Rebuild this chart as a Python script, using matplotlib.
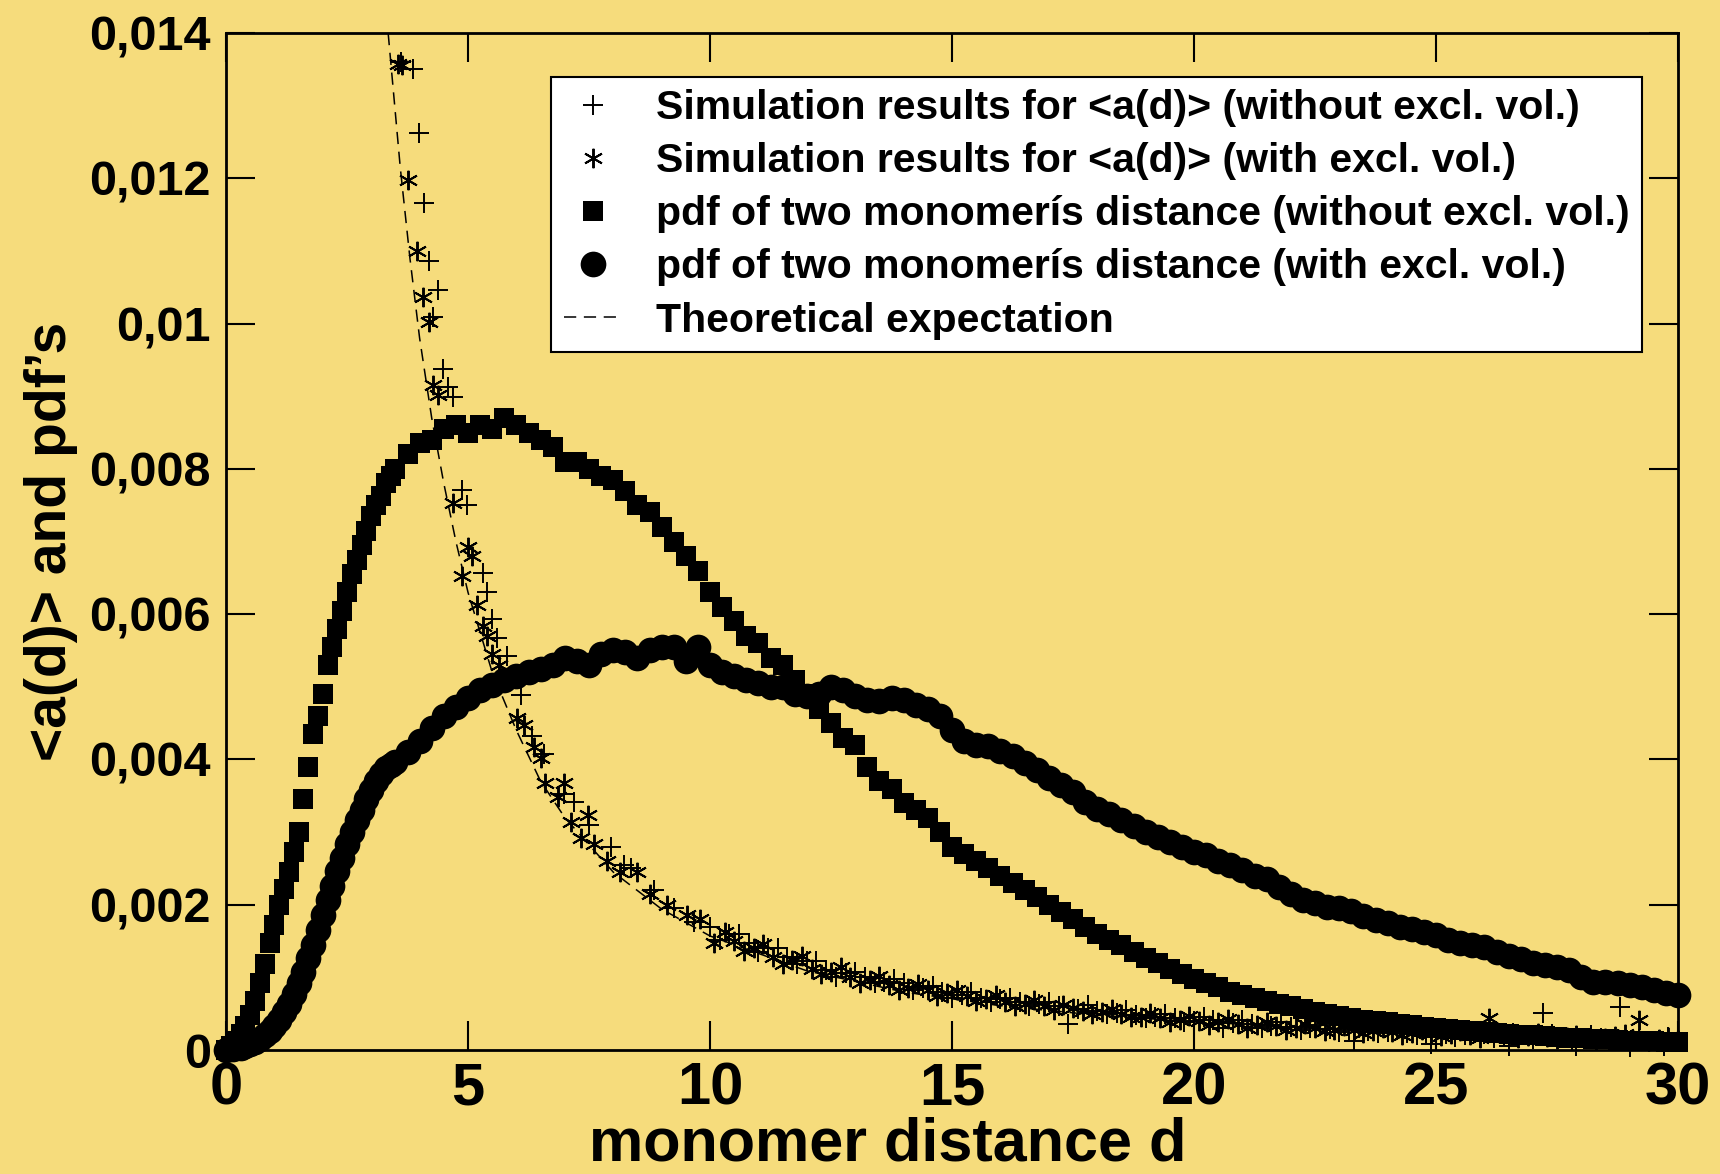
#!/usr/bin/env python3
"""Average a(d) and pdf of two monomers' distance vs monomer distance d."""
import matplotlib

matplotlib.use("Agg")
import matplotlib.pyplot as plt
import numpy as np

# tick values / labels
d_ticks = [0, 5, 10, 15, 20, 25, 30]
y_ticks = [0, 0.002, 0.004, 0.006, 0.008, 0.010, 0.012, 0.014]
y_ticklabels = ["0", "0,002", "0,004", "0,006", "0,008", "0,01", "0,012", "0,014"]

# pdf without excluded volume (squares)
pdf_free = [
    (0.0, 0.0), (0.1, 0.00006), (0.2, 0.00013), (0.3, 0.00022), (0.4, 0.00033),
    (0.5, 0.00048), (0.6, 0.00068), (0.7, 0.00092), (0.8, 0.00118), (0.9, 0.00147),
    (1.0, 0.00172), (1.1, 0.00200), (1.2, 0.00222), (1.3, 0.00245), (1.4, 0.00272),
    (1.5, 0.00300), (1.6, 0.00345), (1.7, 0.00390), (1.8, 0.00435), (1.9, 0.00460),
    (2.0, 0.00490), (2.1, 0.00530), (2.2, 0.00555), (2.3, 0.00580), (2.4, 0.00605),
    (2.5, 0.00630), (2.6, 0.00655), (2.7, 0.00675), (2.8, 0.00695), (2.9, 0.00715),
    (3.0, 0.00735), (3.1, 0.00750), (3.2, 0.00762), (3.3, 0.00780), (3.4, 0.00790),
    (3.5, 0.0080), (3.75, 0.0082), (4.0, 0.00835), (4.25, 0.0084), (4.5, 0.00855),
    (4.75, 0.0086), (5.0, 0.0085), (5.25, 0.0086), (5.5, 0.00855), (5.75, 0.0087),
    (6.0, 0.0086), (6.25, 0.0085), (6.5, 0.0084), (6.75, 0.0083), (7.0, 0.0081),
    (7.25, 0.0081), (7.5, 0.0080), (7.75, 0.0079), (8.0, 0.00785), (8.25, 0.0077),
    (8.5, 0.0075), (8.75, 0.0074), (9.0, 0.0072), (9.25, 0.0070), (9.5, 0.0068),
    (9.75, 0.0066), (10.0, 0.0063), (10.25, 0.0061), (10.5, 0.0059), (10.75, 0.0057),
    (11.0, 0.0056), (11.25, 0.0054), (11.5, 0.0053), (11.75, 0.0051), (12.0, 0.0049),
    (12.25, 0.0047), (12.5, 0.0045), (12.75, 0.0043), (13.0, 0.0042), (13.25, 0.0039),
    (13.5, 0.0037), (13.75, 0.0036), (14.0, 0.0034), (14.25, 0.0033), (14.5, 0.0032),
    (14.75, 0.0030), (15.0, 0.0028), (15.25, 0.0027), (15.5, 0.0026), (15.75, 0.0025),
    (16.0, 0.0024), (16.25, 0.0023), (16.5, 0.0022), (16.75, 0.0021), (17.0, 0.0020),
    (17.25, 0.00190), (17.5, 0.00180), (17.75, 0.00170), (18.0, 0.00160), (18.25, 0.00152),
    (18.5, 0.00145), (18.75, 0.00135), (19.0, 0.00127), (19.25, 0.00120), (19.5, 0.00112),
    (19.75, 0.00105), (20.0, 0.00098), (20.25, 0.00092), (20.5, 0.00087), (20.75, 0.00080),
    (21.0, 0.00076), (21.25, 0.00071), (21.5, 0.00067), (21.75, 0.00063), (22.0, 0.00060),
    (22.25, 0.00056), (22.5, 0.00053), (22.75, 0.00050), (23.0, 0.00047), (23.25, 0.00044),
    (23.5, 0.00042), (23.75, 0.00040), (24.0, 0.00038), (24.25, 0.00036), (24.5, 0.00034),
    (24.75, 0.00032), (25.0, 0.00030), (25.25, 0.00029), (25.5, 0.00027), (25.75, 0.00026),
    (26.0, 0.00025), (26.25, 0.00023), (26.5, 0.00022), (26.75, 0.00021), (27.0, 0.00020),
    (27.25, 0.00019), (27.5, 0.00018), (27.75, 0.00017), (28.0, 0.00016), (28.25, 0.00015),
    (28.5, 0.00015), (28.75, 0.00014), (29.0, 0.00013), (29.25, 0.00013), (29.5, 0.00012),
    (29.75, 0.00011), (30.0, 0.00011),
]

# pdf with excluded volume (circles)
pdf_excl = [
    (0.0, 0.0), (0.15, 0.00001), (0.3, 0.00003), (0.4, 0.00005), (0.5, 0.00008),
    (0.6, 0.00011), (0.7, 0.00015), (0.8, 0.00020), (0.9, 0.00026), (1.0, 0.00033),
    (1.1, 0.00041), (1.2, 0.00052), (1.3, 0.00064), (1.4, 0.00077), (1.5, 0.00092),
    (1.6, 0.00108), (1.7, 0.00126), (1.8, 0.00145), (1.9, 0.00165), (2.0, 0.00186),
    (2.1, 0.00206), (2.2, 0.00226), (2.3, 0.00246), (2.4, 0.00265), (2.5, 0.00283),
    (2.6, 0.00300), (2.7, 0.00316), (2.8, 0.00331), (2.9, 0.00345), (3.0, 0.00358),
    (3.1, 0.00370), (3.2, 0.00380), (3.3, 0.00388), (3.4, 0.00393), (3.5, 0.00397),
    (3.75, 0.00410), (4.0, 0.00425), (4.25, 0.00443), (4.5, 0.00460), (4.75, 0.00472),
    (5.0, 0.00485), (5.25, 0.00495), (5.5, 0.00502), (5.75, 0.00510), (6.0, 0.00515),
    (6.25, 0.00520), (6.5, 0.00525), (6.75, 0.00530), (7.0, 0.00540), (7.25, 0.00535),
    (7.5, 0.00530), (7.75, 0.00545), (8.0, 0.00550), (8.25, 0.00548), (8.5, 0.00540),
    (8.75, 0.00550), (9.0, 0.00555), (9.25, 0.00555), (9.5, 0.00535), (9.75, 0.00555),
    (10.0, 0.00530), (10.25, 0.00520), (10.5, 0.00515), (10.75, 0.00510), (11.0, 0.00505),
    (11.25, 0.00500), (11.5, 0.00500), (11.75, 0.00490), (12.0, 0.00488), (12.25, 0.00490),
    (12.5, 0.00500), (12.75, 0.00495), (13.0, 0.00488), (13.25, 0.00482), (13.5, 0.00480),
    (13.75, 0.00485), (14.0, 0.00482), (14.25, 0.00475), (14.5, 0.00470), (14.75, 0.00460),
    (15.0, 0.00440), (15.25, 0.00425), (15.5, 0.00420), (15.75, 0.00418), (16.0, 0.00412),
    (16.25, 0.00405), (16.5, 0.00395), (16.75, 0.00385), (17.0, 0.00375), (17.25, 0.00365),
    (17.5, 0.00355), (17.75, 0.00342), (18.0, 0.00332), (18.25, 0.00325), (18.5, 0.00317),
    (18.75, 0.00308), (19.0, 0.00300), (19.25, 0.00293), (19.5, 0.00287), (19.75, 0.00280),
    (20.0, 0.00273), (20.25, 0.00268), (20.5, 0.00260), (20.75, 0.00255), (21.0, 0.00248),
    (21.25, 0.00240), (21.5, 0.00235), (21.75, 0.00225), (22.0, 0.00215), (22.25, 0.00207),
    (22.5, 0.00202), (22.75, 0.00197), (23.0, 0.00195), (23.25, 0.00192), (23.5, 0.00185),
    (23.75, 0.00179), (24.0, 0.00175), (24.25, 0.00170), (24.5, 0.00166), (24.75, 0.00162),
    (25.0, 0.00158), (25.25, 0.00152), (25.5, 0.00147), (25.75, 0.00145), (26.0, 0.00142),
    (26.25, 0.00135), (26.5, 0.00129), (26.75, 0.00125), (27.0, 0.00120), (27.25, 0.00117),
    (27.5, 0.00114), (27.75, 0.00110), (28.0, 0.00100), (28.25, 0.00093), (28.5, 0.00093),
    (28.75, 0.00092), (29.0, 0.00090), (29.25, 0.00087), (29.5, 0.00082), (29.75, 0.00078),
    (30.0, 0.00076),
]

# <a(d)> without excluded volume (plus signs)
ad_free = [
    (3.62, 0.0136), (3.86, 0.0135), (3.99, 0.01262), (4.09, 0.01166), (4.2, 0.01086),
    (4.28, 0.01009), (4.38, 0.01046), (4.48, 0.00937), (4.58, 0.00913), (4.7, 0.00899),
    (4.88, 0.00771), (4.98, 0.0075), (5.3, 0.00656), (5.4, 0.00631), (5.5, 0.00594),
    (5.6, 0.00567), (5.81, 0.00543), (6.09, 0.00489), (6.33, 0.00432), (6.57, 0.00407),
    (6.98, 0.00353), (7.19, 0.00341), (7.5, 0.0031), (7.95, 0.00279), (8.22, 0.00255),
    (8.36, 0.0025), (8.84, 0.0022), (9.26, 0.00196), (9.67, 0.00176), (10.0, 0.0017),
    (10.2, 0.00152), (10.4, 0.00160), (10.6, 0.00160), (10.8, 0.00148), (11.0, 0.00135),
    (11.2, 0.00140), (11.4, 0.00140), (11.6, 0.00128), (11.8, 0.00118), (12.0, 0.00122),
    (12.2, 0.00122), (12.4, 0.00110), (12.6, 0.00100), (12.8, 0.00106), (13.0, 0.00108),
    (13.2, 0.00100), (13.4, 0.00092), (13.6, 0.00094), (13.8, 0.00098), (14.0, 0.00092),
    (14.2, 0.00082), (14.4, 0.00086), (14.6, 0.00088), (14.8, 0.00080), (15.0, 0.00072),
    (15.2, 0.00076), (15.4, 0.00080), (15.6, 0.00072), (15.8, 0.00066), (16.0, 0.00070),
    (16.2, 0.00072), (16.4, 0.00066), (16.6, 0.00060), (16.8, 0.00064), (17.0, 0.00066),
    (17.2, 0.00060), (17.4, 0.00036), (17.6, 0.00057), (17.8, 0.00062), (18.0, 0.00054),
    (18.2, 0.00050), (18.4, 0.00051), (18.6, 0.00055), (18.8, 0.00048), (19.0, 0.00044),
    (19.2, 0.00046), (19.4, 0.00050), (19.6, 0.00044), (19.8, 0.00039), (20.0, 0.00040),
    (20.2, 0.00046), (20.4, 0.00041), (20.6, 0.00030), (20.8, 0.00037), (21.0, 0.00042),
    (21.2, 0.00036), (21.4, 0.00031), (21.6, 0.00033), (21.8, 0.00038), (22.0, 0.00032),
    (22.2, 0.00028), (22.4, 0.00030), (22.6, 0.00034), (22.8, 0.00029), (23.0, 0.00025),
    (23.2, 0.00027), (23.3, 0.00012), (23.4, 0.00031), (23.6, 0.00026), (23.8, 0.00023),
    (24.0, 0.00025), (24.2, 0.00029), (24.4, 0.00024), (24.6, 0.00020), (24.8, 0.00023),
    (24.9, 0.00008), (25.0, 0.00027), (25.2, 0.00022), (25.4, 0.00018), (25.6, 0.00021),
    (25.8, 0.00025), (26.0, 0.00022), (26.2, 0.00016), (26.4, 0.00019), (26.5, 0.00006),
    (26.6, 0.00023), (26.8, 0.00020), (27.0, 0.00015), (27.2, 0.00051), (27.4, 0.00022),
    (27.6, 0.00018), (27.8, 0.00013), (27.9, 0.00005), (28.0, 0.00017), (28.2, 0.00020),
    (28.4, 0.00016), (28.6, 0.00012), (28.8, 0.00059), (29.0, 0.00004), (29.2, 0.00015),
    (29.4, 0.00011), (29.6, 0.00014), (29.7, 0.00005), (29.8, 0.00018), (30.0, 0.00013),
]

# <a(d)> with excluded volume (asterisks)
ad_excl = [
    (3.55, 0.01358), (3.64, 0.01356), (3.76, 0.01198), (3.94, 0.0110), (4.07, 0.01037),
    (4.2, 0.01002), (4.28, 0.00915), (4.38, 0.00902), (4.7, 0.00753), (4.88, 0.00653),
    (4.99, 0.00693), (5.09, 0.0068), (5.18, 0.00613), (5.3, 0.00584), (5.4, 0.0057),
    (5.5, 0.00545), (5.64, 0.0053), (6.02, 0.00457), (6.16, 0.00447), (6.36, 0.00417),
    (6.5, 0.00402), (6.6, 0.00368), (6.85, 0.00348), (6.98, 0.00368), (7.12, 0.00314),
    (7.33, 0.00292), (7.47, 0.00324), (7.6, 0.00284), (7.88, 0.0026), (8.15, 0.00245),
    (8.5, 0.00245), (8.77, 0.00215), (9.12, 0.002), (9.53, 0.00186), (9.8, 0.00181),
    (10.08, 0.00147), (10.3, 0.00162), (10.5, 0.00150), (10.7, 0.00136), (10.9, 0.00140),
    (11.1, 0.00146), (11.3, 0.00128), (11.5, 0.00118), (11.7, 0.00124), (11.9, 0.00130),
    (12.1, 0.00112), (12.3, 0.00104), (12.5, 0.00108), (12.7, 0.00114), (12.9, 0.00100),
    (13.1, 0.00092), (13.3, 0.00097), (13.5, 0.00102), (13.7, 0.00090), (13.9, 0.00083),
    (14.1, 0.00086), (14.3, 0.00091), (14.5, 0.00082), (14.7, 0.00075), (14.9, 0.00078),
    (15.1, 0.00083), (15.3, 0.00074), (15.5, 0.00068), (15.7, 0.00070), (15.9, 0.00076),
    (16.1, 0.00066), (16.3, 0.00060), (16.5, 0.00064), (16.7, 0.00069), (16.9, 0.00060),
    (17.1, 0.00055), (17.3, 0.00062), (17.5, 0.00058), (17.7, 0.00054), (17.9, 0.00049),
    (18.1, 0.00052), (18.3, 0.00057), (18.5, 0.00050), (18.7, 0.00045), (18.9, 0.00046),
    (19.1, 0.00051), (19.3, 0.00044), (19.5, 0.00039), (19.7, 0.00042), (19.9, 0.00047),
    (20.1, 0.00040), (20.3, 0.00035), (20.5, 0.00038), (20.7, 0.00043), (20.9, 0.00036),
    (21.1, 0.00031), (21.3, 0.00034), (21.5, 0.00039), (21.7, 0.00033), (21.9, 0.00028),
    (22.1, 0.00031), (22.3, 0.00036), (22.5, 0.00030), (22.7, 0.00026), (22.9, 0.00028),
    (23.1, 0.00033), (23.3, 0.00027), (23.5, 0.00023), (23.7, 0.00026), (23.9, 0.00030),
    (24.1, 0.00025), (24.3, 0.00021), (24.5, 0.00024), (24.7, 0.00028), (24.9, 0.00023),
    (25.1, 0.00019), (25.3, 0.00022), (25.5, 0.00026), (25.7, 0.00021), (25.9, 0.00017),
    (26.1, 0.00044), (26.3, 0.00024), (26.5, 0.00020), (26.7, 0.00016), (26.9, 0.00019),
    (27.1, 0.00023), (27.3, 0.00018), (27.5, 0.00015), (27.7, 0.00018), (27.9, 0.00021),
    (28.1, 0.00017), (28.3, 0.00014), (28.5, 0.00016), (28.7, 0.00019), (28.9, 0.00022),
    (29.2, 0.00041), (29.4, 0.00013), (29.6, 0.00015), (29.8, 0.00018), (30.0, 0.00014),
]

# theoretical expectation (dashed)
theory = [
    (3.35, 0.0140), (3.6, 0.01215), (3.8, 0.0109), (4.0, 0.0098), (4.25, 0.0087),
    (4.5, 0.0078), (4.75, 0.0070), (5.0, 0.0063), (5.5, 0.0052), (6.0, 0.0044),
    (6.5, 0.0037), (7.0, 0.0032), (8.0, 0.00245), (9.0, 0.00194), (10.0, 0.00157),
    (12.0, 0.00109), (14.0, 0.0008), (16.0, 0.00061), (18.0, 0.00048), (20.0, 0.00039),
    (22.0, 0.00032), (24.0, 0.00027), (26.0, 0.00023), (28.0, 0.0002), (30.0, 0.000175),
]

labels = [
    "Simulation results for <a(d)> (without excl. vol.)",
    "Simulation results for <a(d)> (with excl. vol.)",
    "pdf of two monomerís distance (without excl. vol.)",
    "pdf of two monomerís distance (with excl. vol.)",
    "Theoretical expectation",
]


def main():
    plt.rcParams["font.family"] = ["Liberation Sans", "DejaVu Sans"]
    plt.rcParams["font.weight"] = "bold"
    bg = "#f6dc7c"

    fig = plt.figure(figsize=(17.2, 11.74), dpi=100, facecolor=bg)
    ax = fig.add_axes([0.1314, 0.1056, 0.8442, 0.8663])
    ax.set_facecolor(bg)

    x, y = np.array(ad_free).T
    ax.plot(x, y, ls="none", marker="+", ms=15, mew=1.4, color="black",
            clip_on=False, label=labels[0])
    x, y = np.array(ad_excl).T
    ax.plot(x, y, ls="none", marker=(6, 2, 0), ms=14, mew=1.4, color="black",
            clip_on=False, label=labels[1])
    x, y = np.array(pdf_free).T
    ax.plot(x, y, ls="none", marker="s", ms=14.5, mew=0, color="black",
            clip_on=False, label=labels[2])
    x, y = np.array(pdf_excl).T
    ax.plot(x, y, ls="none", marker="o", ms=18.5, mew=0, color="black",
            clip_on=False, label=labels[3])
    x, y = np.array(theory).T
    ax.plot(x, y, ls=(0, (8, 5)), lw=1.1, color="black", label=labels[4])

    ax.set_xlim(0, 30)
    ax.set_ylim(0, 0.014)
    ax.set_xticks(d_ticks)
    ax.set_xticklabels([str(t) for t in d_ticks])
    ax.set_yticks(y_ticks)
    ax.set_yticklabels(y_ticklabels)
    ax.tick_params(axis="both", which="major", direction="in", length=21, width=1.5,
                   top=True, right=True)
    ax.tick_params(axis="x", labelsize=43, pad=8)
    ax.tick_params(axis="y", labelsize=35, pad=11)
    for sp in ax.spines.values():
        sp.set_linewidth(2)

    ax.set_xlabel("monomer distance d", fontsize=44, fontweight="bold", labelpad=0)
    ax.xaxis.label.set_x(0.456)
    ax.set_ylabel("<a(d)> and pdf’s", fontsize=41, fontweight="bold", labelpad=8)

    leg = ax.legend(loc="upper right", bbox_to_anchor=(0.975, 0.957), borderaxespad=0,
                    fontsize=29.5, frameon=True, fancybox=False, framealpha=1,
                    edgecolor="black", facecolor="white", labelspacing=0.37,
                    borderpad=0.3, handlelength=1.45, handletextpad=0.8)
    leg.get_frame().set_linewidth(1.5)

    fig.savefig("out.png", dpi=100, facecolor=fig.get_facecolor())


if __name__ == "__main__":
    main()
